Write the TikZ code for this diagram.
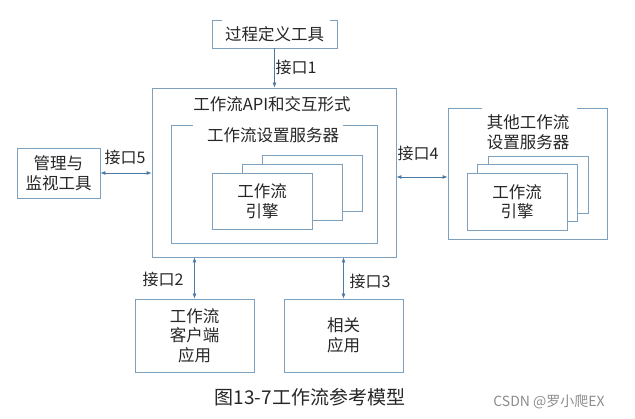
\documentclass[tikz,border=0pt]{standalone}
\usepackage{fontspec}
\setmainfont{Noto Sans CJK SC}
\usepackage{tikz}
\usetikzlibrary{arrows.meta}
\definecolor{boxcol}{RGB}{125,160,190}
\definecolor{linkcol}{RGB}{75,120,165}

\tikzset{
  box/.style={draw=boxcol,line width=0.8pt,fill=white,inner sep=0pt},
  txt/.style={font=\fontsize{16.5}{19.5}\selectfont,align=center,text=black!85},
  lbl/.style={font=\fontsize{16}{18}\selectfont,text=black!85},
  dlink/.style={draw=linkcol,line width=0.8pt,{Latex[length=5pt,width=4pt]}-{Latex[length=5pt,width=4pt]}},
  slink/.style={draw=linkcol,line width=0.8pt,-{Latex[length=5pt,width=4pt]}}
}

\begin{document}
\begin{tikzpicture}[x=1pt,y=-1pt]
  \useasboundingbox (0,0) rectangle (635,419);
  % outer boxes
  \node[box,minimum width=125pt,minimum height=28pt] (proc) at (274.5,34) {};
  \node[txt] at (proc.center) {过程定义工具};
  \draw[white,line width=2pt] (222,20) -- (330,20);
  \node[box,minimum width=244pt,minimum height=169pt] (api) at (274,172.5) {};
  \node[txt] (apititle) at (272,104) {工作流API和交互形式};
  \node[box,minimum width=206pt,minimum height=118pt] (srv) at (274,184) {};
  \draw[white,line width=2pt] (193,125) -- (343,125);
  \node[txt] (srvtitle) at (273,135) {工作流设置服务器};
  \foreach \dx/\dy [count=\i] in {50/-17.5,30/-9,0/0}
    \node[box,minimum width=100pt,minimum height=56pt] (eng\i) at (262+\dx,201+\dy) {};
  \node[txt] at (eng3.center) {工作流\\引擎};
  \node[box,minimum width=83pt,minimum height=50pt] (mgmt) at (58.5,173) {};
  \node[txt] at (mgmt.center) {管理与\\监视工具};
  \node[box,minimum width=159pt,minimum height=131pt] (other) at (527.5,173.5) {};
  \draw[white,line width=2pt] (482,108) -- (577,108);
  \node[txt] (othertitle) at (528,132.5) {其他工作流\\设置服务器};
  \foreach \dx/\dy [count=\i] in {21/-17,10/-8.5,0/0}
    \node[box,minimum width=100pt,minimum height=57pt] (oeng\i) at (517+\dx,201.5+\dy) {};
  \node[txt] at (oeng3.center) {工作流\\引擎};
  \node[box,minimum width=119pt,minimum height=73pt] (client) at (194.5,335.5) {};
  \node[txt] at (client.center) {工作流\\客户端\\应用};
  \node[box,minimum width=119pt,minimum height=73pt] (related) at (343.5,335.5) {};
  \node[txt] at (related.center) {相关\\应用};
  % interfaces
  \draw[slink] (proc.south) -- (proc.south |- api.north);
  \node[lbl] at (296,67) {接口1};
  \draw[dlink] (mgmt.east) -- (mgmt.east -| api.west);
  \node[lbl] at (125,157) {接口5};
  \coordinate (c4) at ([yshift=-3.5pt]other.west);
  \draw[dlink] (c4 -| api.east) -- (c4);
  \node[lbl] at (418,153) {接口4};
  \draw[dlink] (client.north |- api.south) -- (client.north);
  \node[lbl] at (163,279) {接口2};
  \draw[dlink] (related.north |- api.south) -- (related.north);
  \node[lbl] at (370,281) {接口3};
  % caption
  \node[font=\fontsize{19}{22}\selectfont,text=black!85] (caption) at (310,397) {图13-7工作流参考模型};
  \node[font=\fontsize{14}{16}\selectfont,text=black!45] (mark) at (549,402) {CSDN @罗小爬EX};
\end{tikzpicture}
\end{document}
